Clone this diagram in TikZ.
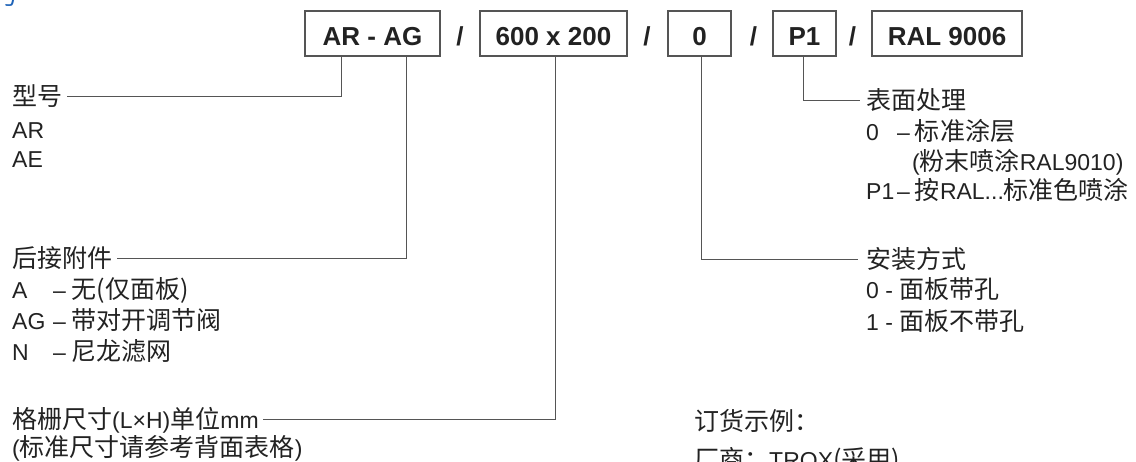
\documentclass[tikz,border=0pt]{standalone}
\usepackage{fontspec}
\setmainfont{Liberation Sans}
\newfontfamily\cjk[Scale=1.087]{Noto Sans CJK SC}
\definecolor{txt}{HTML}{222222}
\definecolor{ln}{HTML}{555555}
\definecolor{ttl}{HTML}{1E63B8}
\tikzset{
  codebox/.style={draw=ln, line width=1.2pt, minimum height=45pt, inner sep=0pt,
    text height=23.6pt, text depth=0pt, font=\fontsize{26}{26}\selectfont\bfseries, text=txt},
  sepmark/.style={inner sep=0pt, text height=18.6pt, text depth=0pt,
    font=\fontsize{26}{26}\selectfont\bfseries, text=txt},
  lbl/.style={anchor=west, inner sep=0pt, text height=16.5pt, text depth=0pt,
    font=\fontsize{23}{23}\selectfont, text=txt},
  conn/.style={draw=ln, line width=1pt}
}
\begin{document}
\begin{tikzpicture}[x=1pt,y=-1pt]
\useasboundingbox (0,0) rectangle (1136,462);

% partially visible title
\node[lbl, anchor=east, text=ttl] (title) at (20,-4) {\cjk 号};

% code boxes
\node[codebox, minimum width=135pt] (box1) at (372.5,33.5) {AR - AG};
\node[sepmark] (s1) at (460,36) {/};
\node[codebox, minimum width=147pt] (box2) at (553.5,33.5) {600 x 200};
\node[sepmark] (s2) at (647,36) {/};
\node[codebox, minimum width=63pt] (box3) at (699.5,33.5) {0};
\node[sepmark] (s3) at (753.5,36) {/};
\node[codebox, minimum width=63pt] (box4) at (804.5,33.5) {P1};
\node[sepmark] (s4) at (852.5,36) {/};
\node[codebox, minimum width=150pt] (box5) at (947,33.5) {RAL 9006};

% left labels
\node[lbl] (model) at (12,97) {\cjk 型号};
\node[lbl] (ar) at (12,130) {AR};
\node[lbl] (ae) at (12,159) {AE};

\node[lbl] (acc) at (12,259) {\cjk 后接附件};
\node[lbl] (accA) at (12,290) {\makebox[41pt][l]{A}–\hspace{6pt}{\cjk 无(仅面板)}};
\node[lbl] (accAG) at (12,321) {\makebox[41pt][l]{AG}–\hspace{6pt}{\cjk 带对开调节阀}};
\node[lbl] (accN) at (12,352) {\makebox[41pt][l]{N}–\hspace{6pt}{\cjk 尼龙滤网}};

\node[lbl] (size) at (12,420) {{\cjk 格栅尺寸}(L×H){\cjk 单位}mm};
\node[lbl] (size2) at (12,448) {({\cjk 标准尺寸请参考背面表格})};

% right labels
\node[lbl] (surf) at (866,101) {\cjk 表面处理};
\node[lbl] (surf0) at (866,132) {\makebox[31pt][l]{0}–\hspace{5pt}{\cjk 标准涂层}};
\node[lbl] (surf0b) at (912,162) {({\cjk 粉末喷涂}RAL9010)};
\node[lbl] (surfP) at (866,191) {\makebox[31pt][l]{P1}–\hspace{5pt}{\cjk 按}RAL...{\cjk 标准色喷涂}};

\node[lbl] (mount) at (866,260) {\cjk 安装方式};
\node[lbl] (mount0) at (866,290) {0 - {\cjk 面板带孔}};
\node[lbl] (mount1) at (866,322) {1 - {\cjk 面板不带孔}};

\node[lbl] (order) at (694,422) {\cjk 订货示例：};
\node[lbl] (maker) at (694,460) {{\cjk 厂商：}TROX{\cjk (采用)}};

% connectors
\draw[conn] ([xshift=-31.5pt]box1.south) |- ([xshift=5pt]model.east);
\draw[conn] ([xshift=33.5pt]box1.south) |- ([xshift=5pt]acc.east);
\draw[conn] ([xshift=1.5pt]box2.south) |- ([xshift=4pt]size.east);
\draw[conn] ([xshift=1.5pt]box3.south) |- ([xshift=-8pt]mount.west);
\draw[conn] ([xshift=-1.5pt]box4.south) |- ([xshift=-6pt]surf.west);
\end{tikzpicture}
\end{document}
